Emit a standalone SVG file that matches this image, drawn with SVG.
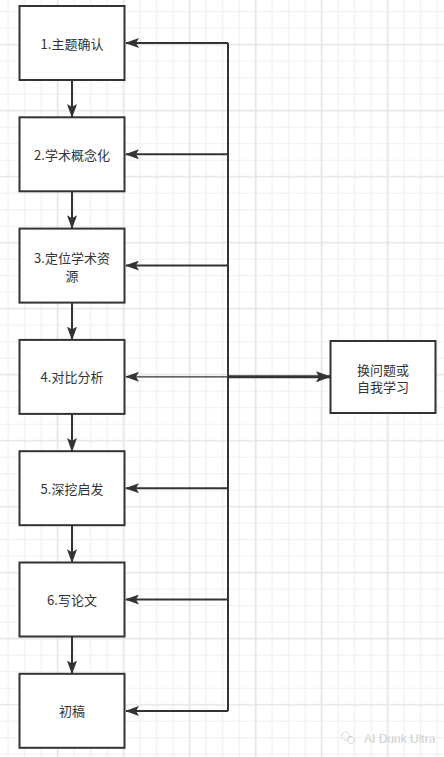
<svg xmlns="http://www.w3.org/2000/svg" width="444" height="757" viewBox="0 0 444 757">
<style>
.box{fill:#ffffff;stroke:#333333;stroke-width:2}
.lbl{font-family:"Noto Sans CJK SC","Microsoft YaHei",sans-serif;font-size:13px;fill:#333333;text-anchor:middle;dominant-baseline:central}
.ln{fill:none;stroke:#333333;stroke-width:2}
.thin{fill:none;stroke:#333333;stroke-width:1.3}
.thick{fill:none;stroke:#333333;stroke-width:3}
</style>
<defs>
<pattern id="minor" patternUnits="userSpaceOnUse" x="-0.05" y="3.45" width="16.5" height="16.5">
<path d="M8.25 0 V16.5 M0 8.25 H16.5" stroke="#efefef" stroke-width="1.2" fill="none"/>
</pattern>
<pattern id="major" patternUnits="userSpaceOnUse" x="24.7" y="11.7" width="66" height="66">
<path d="M33 0 V66 M0 33 H66" stroke="#e2e2e2" stroke-width="1.2" fill="none"/>
</pattern>
<marker id="ah" viewBox="0 0 14 10" refX="13" refY="5" markerWidth="14" markerHeight="10" markerUnits="userSpaceOnUse" orient="auto">
<path d="M0 0 L14 5 L0 10 L3 5 Z" fill="#333333"/>
</marker>
<marker id="ahb" viewBox="0 0 15 11" refX="14" refY="5.5" markerWidth="15" markerHeight="11" markerUnits="userSpaceOnUse" orient="auto">
<path d="M0 0 L15 5.5 L0 11 L3 5.5 Z" fill="#333333"/>
</marker>
</defs>
<rect width="444" height="757" fill="#ffffff"/>
<rect width="444" height="757" fill="url(#minor)"/>
<rect width="444" height="757" fill="url(#major)"/>

<g id="connectors">
<path class="ln" d="M228 43 V711"/>
<path class="ln" d="M228 43 H126" marker-end="url(#ah)"/>
<path class="ln" d="M228 154.3 H126" marker-end="url(#ah)"/>
<path class="ln" d="M228 265.6 H126" marker-end="url(#ah)"/>
<path class="thin" d="M228 376.8 H126" marker-end="url(#ah)"/>
<path class="ln" d="M228 488.2 H126" marker-end="url(#ah)"/>
<path class="ln" d="M228 599.5 H126" marker-end="url(#ah)"/>
<path class="ln" d="M228 711 H126" marker-end="url(#ah)"/>
<path class="thick" d="M228 376.8 H330" marker-end="url(#ahb)"/>
<path class="ln" d="M72 80 V117" marker-end="url(#ah)"/>
<path class="ln" d="M72 191.3 V228.3" marker-end="url(#ah)"/>
<path class="ln" d="M72 302.6 V339.6" marker-end="url(#ah)"/>
<path class="ln" d="M72 413.9 V450.9" marker-end="url(#ah)"/>
<path class="ln" d="M72 525.2 V562.2" marker-end="url(#ah)"/>
<path class="ln" d="M72 636.5 V673.5" marker-end="url(#ah)"/>
</g>

<g id="n1"><rect class="box" x="19.5" y="6" width="105" height="74"/><text class="lbl" x="72" y="43">1.主题确认</text></g>
<g id="n2"><rect class="box" x="19.5" y="117.3" width="105" height="74"/><text class="lbl" x="72" y="154.3">2.学术概念化</text></g>
<g id="n3"><rect class="box" x="19.5" y="228.6" width="105" height="74"/><text class="lbl" x="72" y="257.5">3.定位学术资</text><text class="lbl" x="72" y="275">源</text></g>
<g id="n4"><rect class="box" x="19.5" y="339.9" width="105" height="74"/><text class="lbl" x="72" y="376.9">4.对比分析</text></g>
<g id="n5"><rect class="box" x="19.5" y="451.2" width="105" height="74"/><text class="lbl" x="72" y="488.2">5.深挖启发</text></g>
<g id="n6"><rect class="box" x="19.5" y="562.5" width="105" height="74"/><text class="lbl" x="72" y="599.5">6.写论文</text></g>
<g id="n7"><rect class="box" x="19.5" y="673.8" width="105" height="74"/><text class="lbl" x="72" y="710.8">初稿</text></g>
<g id="n8"><rect class="box" x="330.5" y="341" width="105" height="72"/><text class="lbl" x="383" y="369">换问题或</text><text class="lbl" x="383" y="386.5">自我学习</text></g>

<g id="watermark">
<circle cx="345.5" cy="736" r="4" fill="none" stroke="#c4c4c4" stroke-width="1" stroke-dasharray="2 1"/>
<circle cx="351" cy="740" r="3.5" fill="none" stroke="#c4c4c4" stroke-width="1" stroke-dasharray="2 1"/>
<text x="364" y="743" font-family="Liberation Sans, sans-serif" font-size="12" fill="#b0b0b0" stroke="#ffffff" stroke-width="0.3">AI Dunk Ultra</text>
</g>
</svg>
